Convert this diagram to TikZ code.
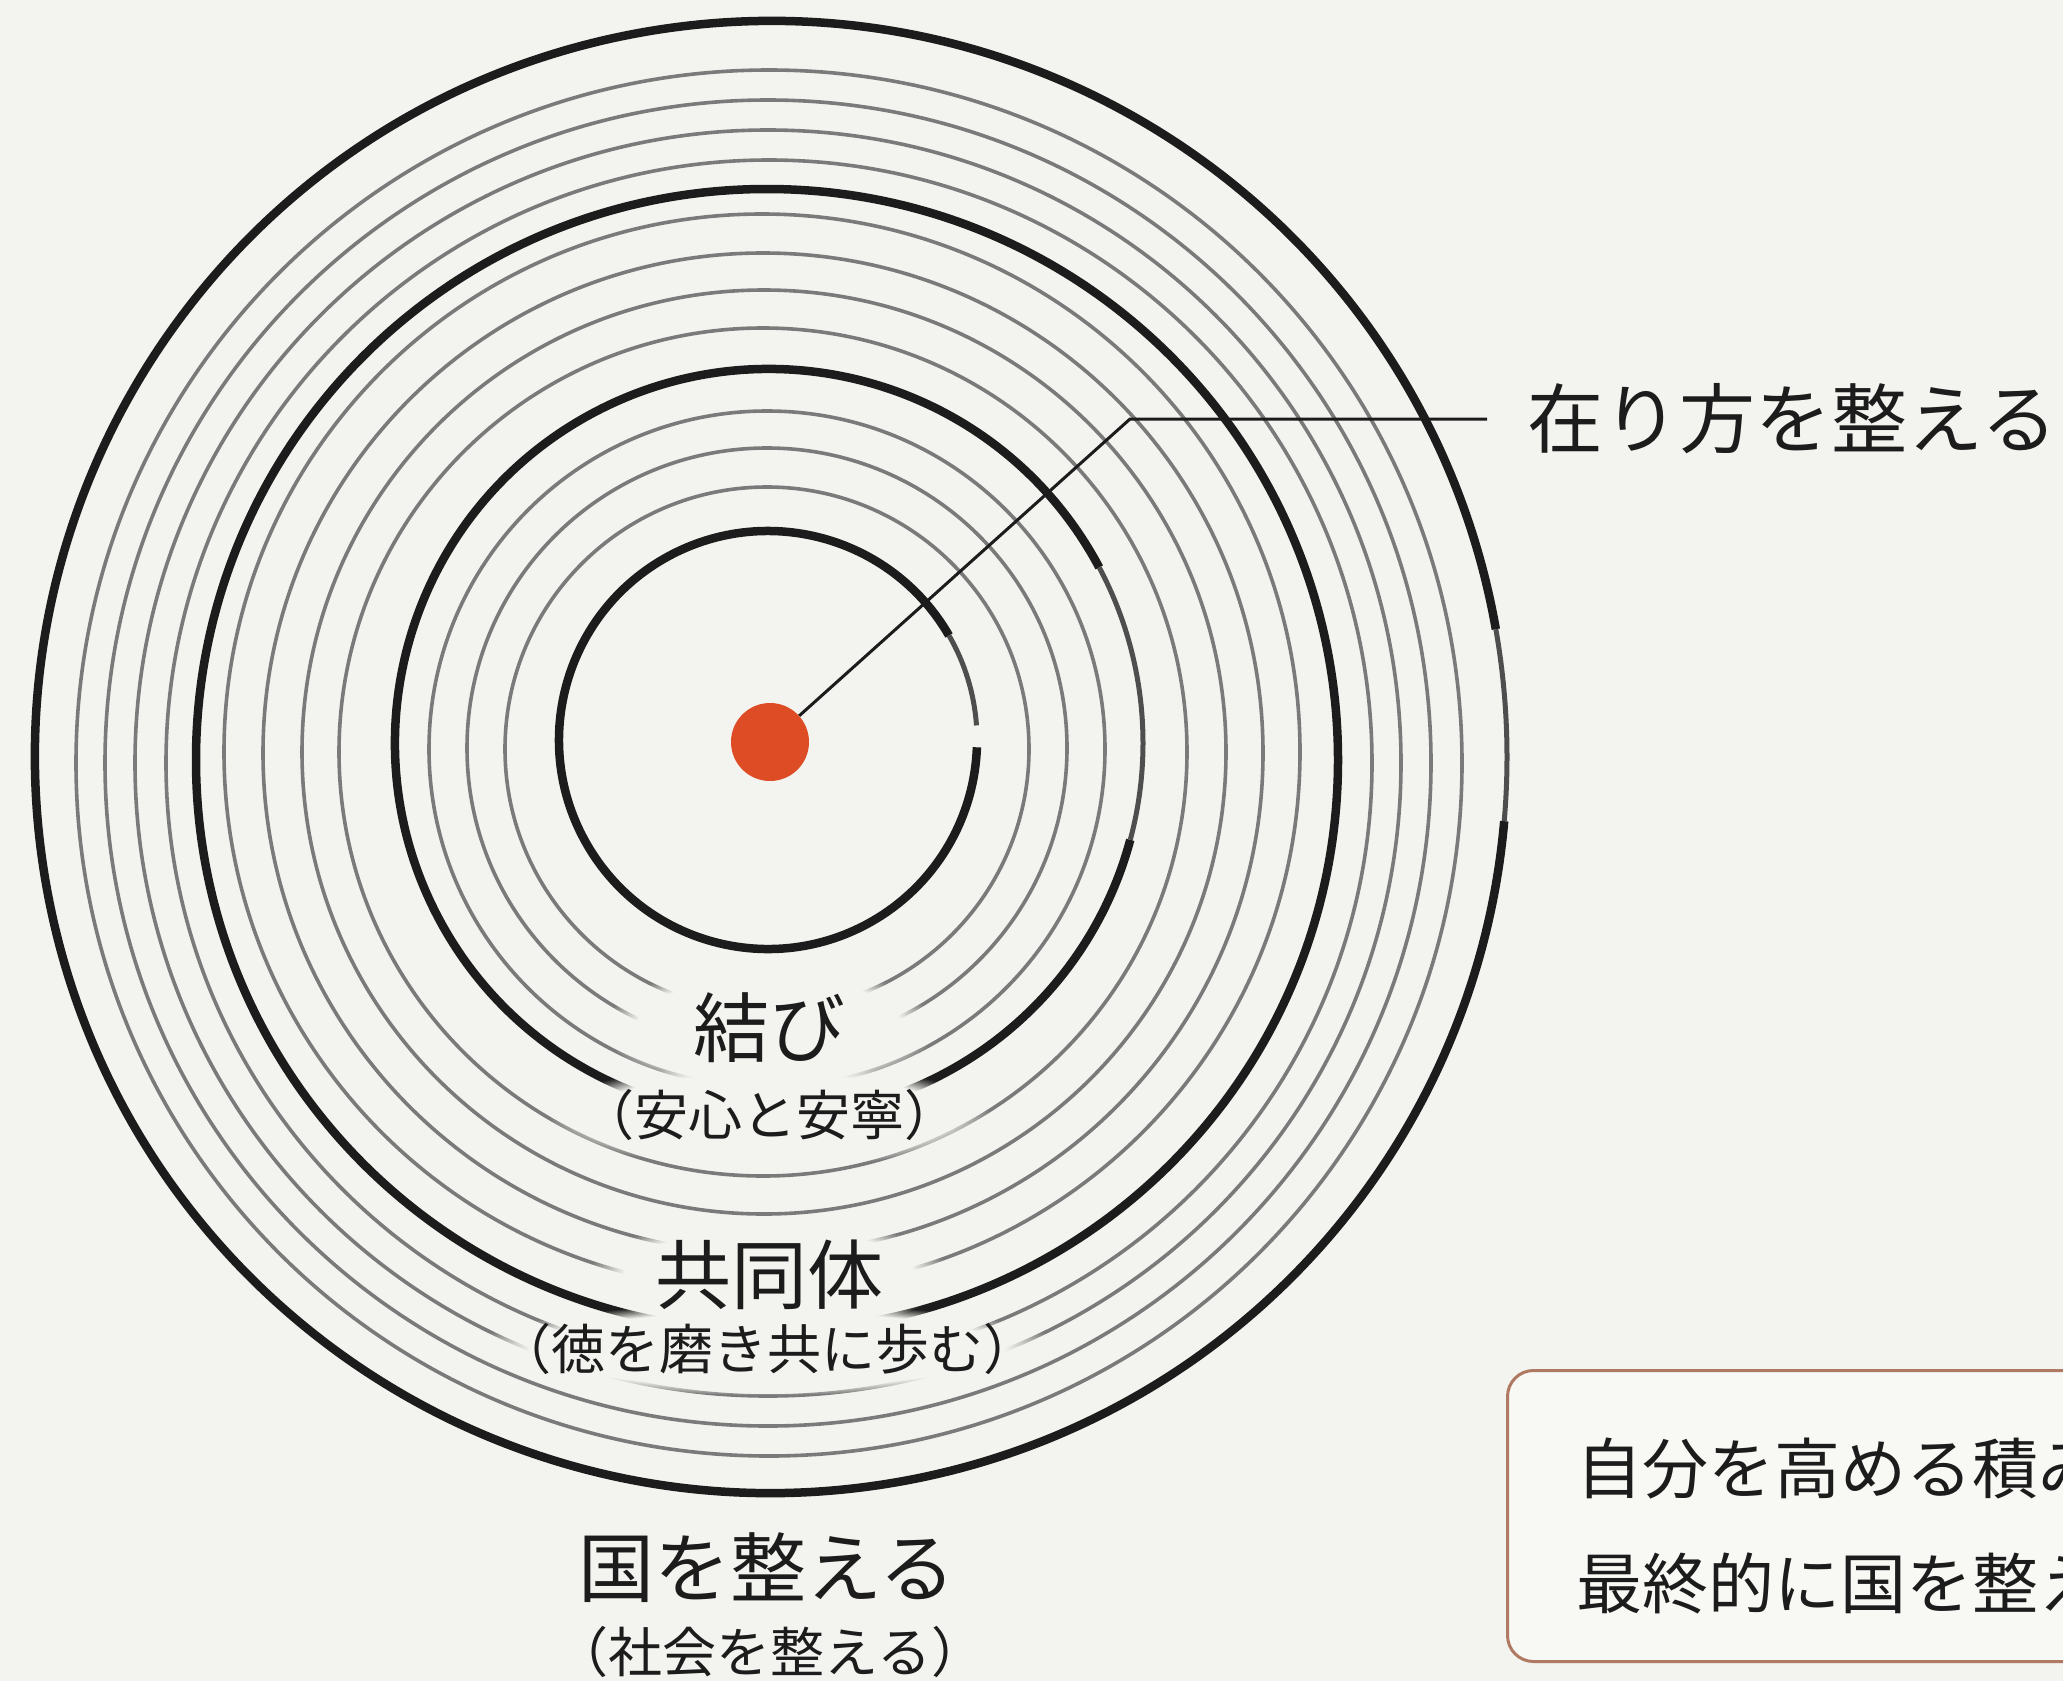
\documentclass[tikz,border=0pt]{standalone}
\usepackage{fontspec}
\newfontfamily\jp{Noto Sans CJK JP}
\usetikzlibrary{fadings,positioning}
\definecolor{paper}{RGB}{243,243,239}
\definecolor{ink}{RGB}{28,28,28}
\definecolor{vermilion}{RGB}{221,76,36}
\definecolor{boxline}{RGB}{176,122,98}
\definecolor{boxfill}{RGB}{248,248,245}
\pgfdeclarelayer{rings}
\pgfdeclarelayer{halos}
\pgfsetlayers{rings,halos,main}

\begin{document}
\begin{tikzpicture}[x=1pt, y=1pt,
      ring/.style = {draw=black!52, line width=3.6pt},
      brush/.style = {draw=ink, line width=8.5pt},
      dry/.style = {draw=ink!78, line width=5pt},
      title/.style = {font=\jp\fontsize{76}{80}\selectfont, text=ink, inner sep=0pt},
      sub/.style = {font=\jp\fontsize{54}{60}\selectfont, text=ink, inner sep=0pt},
      halo/.style = {fill=paper, path fading=circle with fuzzy edge 20 percent},
      notebox/.style = {draw=boxline, fill=boxfill, line width=3pt, rounded corners=26pt,
        minimum width=640pt, minimum height=291pt},
      leader/.style = {draw=ink, line width=3pt}]
  \useasboundingbox (0,0) rectangle (2063,-1681);
  \clip (0,0) rectangle (2063,-1681);

  \begin{pgfonlayer}{rings}
    \fill[paper] (0,0) rectangle (2063,-1681);
    \foreach \cx/\cy/\r in {769/-763/693, 768/-763/663, 768/-763/633, 769/-763/603,
        762/-752/538, 763/-753/500, 764/-752/462, 763/-752/424,
        767/-749/338, 767/-748/300, 767/-749/262}
      \draw[ring] (\cx,\cy) circle [radius=\r];
    % brush rings: full stroke from \a to \b, a break up to \g, then a dry stroke
    \foreach \cx/\cy/\r/\a/\b/\g in {771/-757/736/10/355/355, 767/-760/571/0/360/360,
        769/-743/374/28/345/345, 768/-740/209/30/358/364}
    {
      \draw[brush] (\cx,\cy) ++(\a:\r) arc [start angle=\a, end angle=\b, radius=\r];
      \draw[dry] (\cx,\cy) ++(\g:\r) arc [start angle=\g, end angle=360+\a, radius=\r];
    }
  \end{pgfonlayer}

  \node[circle, fill=vermilion, minimum size=78pt, inner sep=0pt] (core) at (770,-742) {};
  \node[title, anchor=west, inner xsep=40pt] (way) at (1487,-419) {在り方を整える};
  \coordinate (bend) at (1130,-419);
  \draw[leader] (core) -- (bend) -- (way.west);

  \node[title] (musubi) at (769,-1028) {結び};
  \node[sub] (musubi sub) at (769,-1115) {（安心と安寧）};
  \node[title] (kyodo) at (769,-1275) {共同体};
  \node[sub] (kyodo sub) at (767,-1349) {（徳を磨き共に歩む）};
  \node[title] (kuni) at (767,-1568) {国を整える};
  \node[sub] (kuni sub) at (770,-1652) {（社会を整える）};

  \begin{pgfonlayer}{halos}
    \foreach \n/\rx/\ry in {musubi/165/64, musubi sub/220/52, kyodo/180/58, kyodo sub/295/46}
      \fill[halo] (\n) ellipse [x radius=\rx, y radius=\ry];
  \end{pgfonlayer}

  \node[notebox, anchor=north west] (note) at (1506,-1369) {};
  \node[font=\jp\fontsize{66}{115}\selectfont, text=ink, align=left, inner sep=0pt,
    anchor=north west] (note text) at ([xshift=70pt, yshift=-68pt]note.north west)
    {自分を高める積み重ねが\\最終的に国を整える};
\end{tikzpicture}
\end{document}
